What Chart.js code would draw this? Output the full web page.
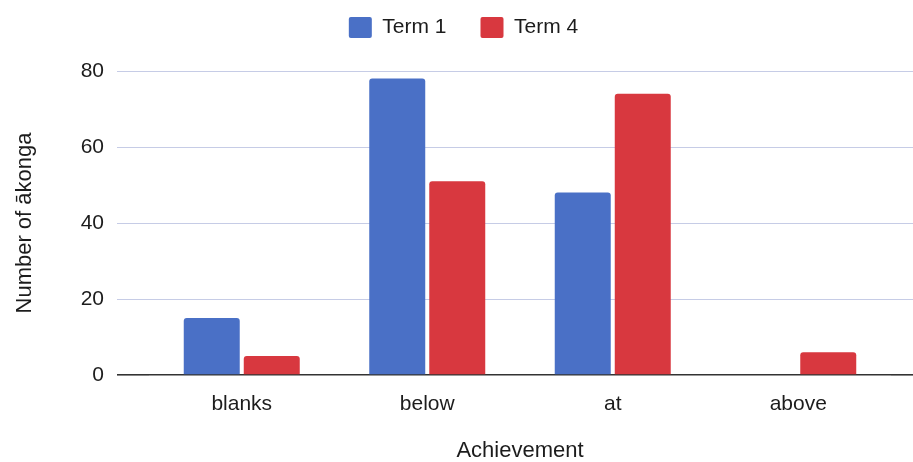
<!DOCTYPE html>
<html>
<head>
<meta charset="utf-8">
<script src="https://cdn.jsdelivr.net/npm/chart.js@4"></script>
<style>
  html, body { margin: 0; padding: 0; background: #ffffff; }
  #wrap { width: 913px; height: 462px; }
</style>
</head>
<body>
<div id="wrap"><canvas id="chart" width="913" height="462"></canvas></div>
<script>
// data
const categories = ['blanks', 'below', 'at', 'above'];
const term1 = [15, 78, 48, 0];
const term4 = [5, 51, 74, 6];
const yTicks = [0, 20, 40, 60, 80];

const FONT = 'Arial, "Liberation Sans", sans-serif';
const textColor = '#1c1c1c';
const gridColor = '#c6cce6';
const zeroColor = '#333333';

const lineColor = (ctx) => (ctx.tick && ctx.tick.value === 0 ? zeroColor : gridColor);
const lineWidth = (ctx) => (ctx.tick && ctx.tick.value === 0 ? 1.6 : 1);

// legend needs more room than chart.js gives it
const legendHeight = {
    id: 'legendHeight',
    beforeInit(chart) {
        const fit = chart.legend.fit;
        chart.legend.fit = function () {
            fit.call(this);
            this.height = 88;
        };
    }
};

new Chart(document.getElementById('chart'), {
    type: 'bar',
    data: {
        labels: categories,
        datasets: [
            { label: 'Term 1', data: term1, backgroundColor: '#4a70c6', borderWidth: 0, borderRadius: 3 },
            { label: 'Term 4', data: term4, backgroundColor: '#d8383f', borderWidth: 0, borderRadius: 3 }
        ]
    },
    options: {
        responsive: false,
        animation: false,
        layout: { padding: { top: -17, left: 14, right: 0, bottom: 0 } },
        datasets: {
            bar: { categoryPercentage: 0.647, barPercentage: 0.933 }
        },
        plugins: {
            legend: {
                position: 'top',
                labels: {
                    boxWidth: 23,
                    boxHeight: 21,
                    padding: 34,
                    useBorderRadius: true,
                    borderRadius: 2,
                    color: textColor,
                    font: { family: FONT, size: 21 }
                }
            },
            tooltip: { enabled: false }
        },
        scales: {
            x: {
                grid: { display: false },
                border: { display: false },
                ticks: { color: textColor, padding: 9, font: { family: FONT, size: 21 } },
                title: {
                    display: true,
                    text: 'Achievement',
                    color: textColor,
                    padding: { top: 0, bottom: 0 },
                    font: { family: FONT, size: 22, lineHeight: 1 }
                },
                afterFit(scale) { scale.height = 87; }
            },
            y: {
                min: 0,
                max: 80,
                afterBuildTicks(scale) { scale.ticks = yTicks.map(v => ({ value: v })); },
                grid: { color: lineColor, tickColor: lineColor, lineWidth: lineWidth, tickLength: 32 },
                border: { display: false },
                ticks: { color: textColor, padding: 13, font: { family: FONT, size: 21 } },
                title: {
                    display: true,
                    text: 'Number of ākonga',
                    color: textColor,
                    padding: { top: 0, bottom: 0 },
                    font: { family: FONT, size: 22, lineHeight: 1 }
                },
                afterFit(scale) { scale.width = 135; }
            },
            y2: {
                position: 'right',
                min: 0,
                max: 80,
                afterBuildTicks(scale) { scale.ticks = yTicks.map(v => ({ value: v })); },
                grid: { drawOnChartArea: false, color: lineColor, tickColor: lineColor, lineWidth: lineWidth, tickLength: 22 },
                border: { display: false },
                ticks: { display: false },
                afterFit(scale) { scale.width = 22; }
            }
        }
    },
    plugins: [legendHeight]
});
</script>
</body>
</html>
